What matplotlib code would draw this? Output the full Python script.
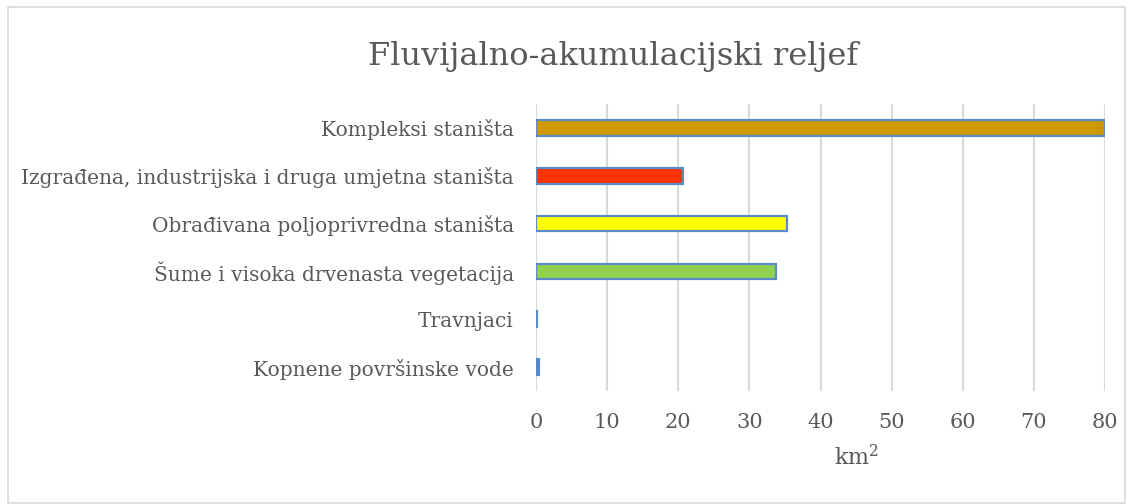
import matplotlib.pyplot as plt
from matplotlib.patches import Rectangle

# podaci (km2)
kategorije = ['Kompleksi staništa',
              'Izgrađena, industrijska i druga umjetna staništa',
              'Obrađivana poljoprivredna staništa',
              'Šume i visoka drvenasta vegetacija',
              'Travnjaci',
              'Kopnene površinske vode']
povrsina = [80.0, 20.6, 35.3, 33.7, 0.15, 0.45]
boje = ['#CC9900', '#FF3300', '#FFFF00', '#92D050', '#4F81BD', '#4F81BD']
x_ticks = [0, 10, 20, 30, 40, 50, 60, 70, 80]

plt.rcParams['font.family'] = ['DejaVu Serif']
plt.rcParams['mathtext.fontset'] = 'dejavuserif'
siva = '#595959'

fig = plt.figure(figsize=(11.36, 5.04), dpi=100)
fig.patches.append(Rectangle((8 / 1136, 1 - 503 / 504), 1117 / 1136, 496 / 504,
                             transform=fig.transFigure, fill=False,
                             edgecolor='#D9D9D9', linewidth=1.2))

ax = fig.add_axes([536 / 1136, 1 - 391 / 504, 569 / 1136, 287 / 504])
y = list(range(len(kategorije)))
ax.barh(y, povrsina, height=0.33, color=boje, edgecolor='#5B8BC9', linewidth=1.6, zorder=3)

ax.set_xlim(0, 80)
ax.set_ylim(len(kategorije) - 0.5, -0.5)
ax.set_xticks(x_ticks)
ax.set_yticks(y)
ax.set_yticklabels(kategorije)
ax.tick_params(axis='both', length=0, colors=siva)
ax.tick_params(axis='y', pad=16, labelsize=14.5)
ax.tick_params(axis='x', pad=16, labelsize=15)
ax.grid(axis='x', color='#D9D9D9', linewidth=1.5, zorder=0)
for s in ax.spines.values():
    s.set_visible(False)

ax.text(0.564, -0.233, 'km$^2$', transform=ax.transAxes, ha='center', va='center',
        fontsize=16, color=siva)

fig.text(0.54, 1 - 57 / 504, 'Fluvijalno-akumulacijski reljef', ha='center', va='center',
         fontsize=23, color=siva)

fig.savefig('out.png', dpi=100)
